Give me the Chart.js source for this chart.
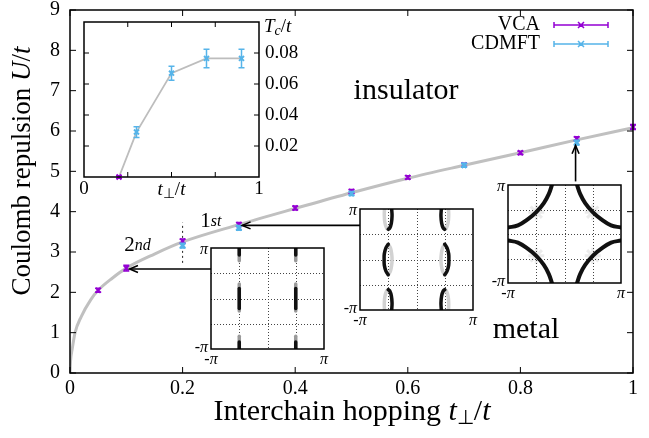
<!DOCTYPE html>
<html>
<head>
<meta charset="utf-8">
<script src="https://cdn.jsdelivr.net/npm/chart.js@4.4.0/dist/chart.umd.min.js"></script>
<style>
html, body { margin: 0; padding: 0; background: #fff; }
#wrap { position: relative; width: 649px; height: 438px; overflow: hidden; }
#wrap canvas { position: absolute; }
</style>
</head>
<body>
<div id="wrap">
  <canvas id="main" width="649" height="438" style="left:0;top:0"></canvas>
  <canvas id="tc"></canvas>
  <canvas id="fsA"></canvas>
  <canvas id="fsB"></canvas>
  <canvas id="fsC"></canvas>
</div>
<script>
// ---- main panel data ----
var tVCA = [0.05, 0.1, 0.2, 0.3, 0.4, 0.5, 0.6, 0.7, 0.8, 0.9, 1.0];
var uVCA = [2.05, 2.6, 3.27, 3.68, 4.09, 4.5, 4.85, 5.16, 5.46, 5.81, 6.1];
var errVCA = [0.05, 0.07, 0.05, 0.05, 0.05, 0.05, 0.04, 0.04, 0.04, 0.05, 0.06];
var tCDMFT = [0.2, 0.3, 0.5, 0.7, 0.9];
var uCDMFT = [3.16, 3.6, 4.45, 5.15, 5.71];
var errCDMFT = [0.06, 0.06, 0.05, 0.05, 0.06];
// grey guide curve
var curveT = [0, 0.001, 0.004, 0.009, 0.02, 0.037, 0.05, 0.075, 0.1, 0.15, 0.2, 0.3, 0.4, 0.5, 0.6, 0.7, 0.8, 0.9, 1.0];
var curveU = [0, 0.3, 0.6, 1.0, 1.4, 1.82, 2.05, 2.35, 2.6, 2.95, 3.25, 3.68, 4.08, 4.47, 4.83, 5.15, 5.46, 5.78, 6.08];
var dottedT = [0.2, 0.2];
var dottedU = [2.73, 3.73];
// arrows: [t from, U from, t to, U to]
var arrows = [[0.252, 2.58, 0.106, 2.58], [0.515, 3.66, 0.306, 3.66], [0.898, 4.75, 0.898, 5.64]];
var xTicks = [0, 0.2, 0.4, 0.6, 0.8, 1];
var yTicks = [0, 1, 2, 3, 4, 5, 6, 7, 8, 9];

// ---- Tc inset data ----
var tcT_VCA = [0.2];
var tc_VCA = [0];
var tcT_CDMFT = [0.3, 0.5, 0.7, 0.9];
var tc_CDMFT = [0.029, 0.067, 0.0765, 0.0765];
var tcErr = [0.0035, 0.0045, 0.006, 0.006];
var tcLineT = [0.2, 0.3, 0.5, 0.7, 0.9];
var tcLine = [0, 0.029, 0.067, 0.0765, 0.0765];
var tcYTicks = [0.02, 0.04, 0.06, 0.08];
var tcXTicks = [0.25, 0.5, 0.75];

// ---- Fermi surface insets (k from -pi to pi) ----
// t_perp = 0.1 : short segments at kx = +-pi/2
var fsA_blackTop = [[-1.57, 3.14], [-1.57, 2.7]];
var fsA_blackMid = [[-1.57, 0.62], [-1.57, -0.62]];
var fsA_greyTop = [[-1.57, 3.14], [-1.57, 2.35]];
var fsA_greyMid = [[-1.57, 0.9], [-1.57, -0.78]];
// t_perp = 0.3 : elongated pockets
var fsB_blackTop = [[-1.38, 3.14], [-1.36, 2.7], [-1.4, 2.25], [-1.49, 1.95], [-1.57, 1.88]];
var fsB_greyTop = [[-1.57, 1.88], [-1.66, 1.95], [-1.76, 2.3], [-1.79, 2.75], [-1.78, 3.14]];
var fsB_blackMid = [[-1.57, 0.95], [-1.7, 0.72], [-1.79, 0.35], [-1.8, 0], [-1.79, -0.35], [-1.7, -0.72], [-1.57, -0.95]];
var fsB_greyMid = [[-1.57, 0.95], [-1.45, 0.72], [-1.38, 0.35], [-1.36, 0], [-1.38, -0.35], [-1.45, -0.72], [-1.57, -0.95]];
// t_perp = 0.9 : arcs round the corners
var fsC_arc = [[-3.14, 0.42], [-2.59, 0.55], [-2.03, 0.95], [-1.57, 1.4], [-1.15, 1.98], [-0.87, 2.57], [-0.7, 3.14]];
var fsC_nodes = [[-1.57, 1.4], [1.57, 1.4], [-1.57, -1.4], [1.57, -1.4]];

var purple = '#9400d3';
var blue = '#56b4e9';
var serif = 'Liberation Serif';

function pts(xs, ys) { return xs.map(function (x, i) { return { x: x, y: ys[i] }; }); }
function pairs(a) { return a.map(function (p) { return { x: p[0], y: p[1] }; }); }
function mirror(a, sx, sy) { return a.map(function (p) { return [p[0] * sx, p[1] * sy]; }); }

// draw text made of pieces with own fonts: [text, font, dy]
function rich(ctx, parts, x, y, align) {
  var w = 0;
  parts.forEach(function (p) { ctx.font = p[1]; w += ctx.measureText(p[0]).width; });
  var cx = align === 'center' ? x - w / 2 : (align === 'right' ? x - w : x);
  ctx.textAlign = 'left';
  parts.forEach(function (p) {
    ctx.font = p[1];
    ctx.fillText(p[0], cx, y + (p[2] || 0));
    cx += ctx.measureText(p[0]).width;
  });
}

var errorBars = {
  id: 'errorBars',
  afterDatasetDraw: function (chart, args) {
    var ds = chart.data.datasets[args.index];
    if (!ds.errors) return;
    var ctx = chart.ctx, xs = chart.scales.x, ys = chart.scales.y;
    var cap = ds.capW || 3;
    ctx.save();
    ctx.strokeStyle = ds.borderColor;
    ctx.lineWidth = 1.5;
    ds.data.forEach(function (p, i) {
      var px = xs.getPixelForValue(p.x);
      var y1 = ys.getPixelForValue(p.y - ds.errors[i]);
      var y2 = ys.getPixelForValue(p.y + ds.errors[i]);
      ctx.beginPath();
      ctx.moveTo(px, y1); ctx.lineTo(px, y2);
      ctx.moveTo(px - cap, y1); ctx.lineTo(px + cap, y1);
      ctx.moveTo(px - cap, y2); ctx.lineTo(px + cap, y2);
      ctx.stroke();
    });
    ctx.restore();
  }
};

function arrowHead(ctx, x1, y1, x2, y2) {
  var a = Math.atan2(y2 - y1, x2 - x1), L = 9, s = 0.4;
  ctx.beginPath();
  ctx.moveTo(x2 - L * Math.cos(a - s), y2 - L * Math.sin(a - s));
  ctx.lineTo(x2, y2);
  ctx.lineTo(x2 - L * Math.cos(a + s), y2 - L * Math.sin(a + s));
  ctx.stroke();
}

var mainDecor = {
  id: 'mainDecor',
  afterDatasetsDraw: function (chart) {
    var ctx = chart.ctx, a = chart.chartArea, xs = chart.scales.x, ys = chart.scales.y;
    ctx.save();
    // frame and inward ticks
    ctx.strokeStyle = '#000';
    ctx.lineWidth = 1.5;
    ctx.strokeRect(a.left, a.top, a.right - a.left, a.bottom - a.top);
    ctx.lineWidth = 1;
    ctx.beginPath();
    xTicks.forEach(function (v) {
      var px = xs.getPixelForValue(v);
      ctx.moveTo(px, a.bottom); ctx.lineTo(px, a.bottom - 6);
      ctx.moveTo(px, a.top); ctx.lineTo(px, a.top + 6);
    });
    yTicks.forEach(function (v) {
      var py = ys.getPixelForValue(v);
      ctx.moveTo(a.left, py); ctx.lineTo(a.left + 6, py);
      ctx.moveTo(a.right, py); ctx.lineTo(a.right - 6, py);
    });
    ctx.stroke();
    // arrows
    ctx.lineWidth = 1.6;
    arrows.forEach(function (r) {
      var x1 = xs.getPixelForValue(r[0]), y1 = ys.getPixelForValue(r[1]);
      var x2 = xs.getPixelForValue(r[2]), y2 = ys.getPixelForValue(r[3]);
      ctx.beginPath(); ctx.moveTo(x1, y1); ctx.lineTo(x2, y2); ctx.stroke();
      arrowHead(ctx, x1, y1, x2, y2);
    });
    // labels
    ctx.fillStyle = '#000';
    ctx.textBaseline = 'middle';
    rich(ctx, [['1', '21px ' + serif], ['st', 'italic 16px ' + serif]], xs.getPixelForValue(0.25), ys.getPixelForValue(3.75), 'center');
    rich(ctx, [['2', '21px ' + serif], ['nd', 'italic 16px ' + serif]], xs.getPixelForValue(0.12), ys.getPixelForValue(3.16), 'center');
    rich(ctx, [['insulator', '30px ' + serif]], xs.getPixelForValue(0.597), ys.getPixelForValue(6.98), 'center');
    rich(ctx, [['metal', '30px ' + serif]], xs.getPixelForValue(0.81), ys.getPixelForValue(1.07), 'center');
    // axis titles
    rich(ctx, [['Interchain hopping ', '30px ' + serif], ['t', 'italic 30px ' + serif], ['\u22A5', '20px ' + serif, 7], ['/', '30px ' + serif], ['t', 'italic 30px ' + serif]], 352, 412, 'center');
    ctx.save();
    ctx.translate(23, 171);
    ctx.rotate(-Math.PI / 2);
    rich(ctx, [['Coulomb repulsion ', '27px ' + serif], ['U', 'italic 27px ' + serif], ['/', '27px ' + serif], ['t', 'italic 27px ' + serif]], 0, 0, 'center');
    ctx.restore();
    // key
    var keys = [['VCA', purple, 25], ['CDMFT', blue, 44]];
    keys.forEach(function (k) {
      rich(ctx, [[k[0], '20px ' + serif]], 540, k[2], 'right');
      ctx.strokeStyle = k[1];
      ctx.lineWidth = 1.5;
      ctx.beginPath();
      ctx.moveTo(554, k[2]); ctx.lineTo(608, k[2]);
      ctx.moveTo(554, k[2] - 3); ctx.lineTo(554, k[2] + 3);
      ctx.moveTo(608, k[2] - 3); ctx.lineTo(608, k[2] + 3);
      ctx.moveTo(578, k[2] - 3); ctx.lineTo(584, k[2] + 3);
      ctx.moveTo(578, k[2] + 3); ctx.lineTo(584, k[2] - 3);
      ctx.stroke();
    });
    ctx.restore();
  }
};

new Chart(document.getElementById('main'), {
  type: 'scatter',
  data: {
    datasets: [
      { label: 'guide', data: pts(curveT, curveU), showLine: true, borderColor: '#c0c0c0', borderWidth: 3,
        pointRadius: 0, tension: 0.4, cubicInterpolationMode: 'monotone', order: 4 },
      { label: 'cut', data: pts(dottedT, dottedU), showLine: true, borderColor: '#222', borderWidth: 1,
        borderDash: [2, 3], pointRadius: 0, order: 3 },
      { label: 'VCA', data: pts(tVCA, uVCA), borderColor: purple, backgroundColor: purple, pointStyle: 'crossRot',
        pointRadius: 3.5, borderWidth: 2, errors: errVCA, order: 2, clip: false },
      { label: 'CDMFT', data: pts(tCDMFT, uCDMFT), borderColor: blue, backgroundColor: blue, pointStyle: 'crossRot',
        pointRadius: 3.5, borderWidth: 2.5, errors: errCDMFT, order: 1, clip: false }
    ]
  },
  options: {
    responsive: false,
    animation: false,
    events: [],
    layout: { padding: { left: 0, top: 10, right: 16, bottom: 0 } },
    plugins: { legend: { display: false }, tooltip: { enabled: false } },
    scales: {
      x: {
        type: 'linear', min: 0, max: 1,
        ticks: { stepSize: 0.2, color: '#000', padding: 4, maxRotation: 0, font: { family: serif, size: 20 },
          callback: function (v) { return String(Number(v.toFixed(2))); } },
        grid: { display: false, drawTicks: false }, border: { display: false },
        afterFit: function (s) { s.height = 65; s.paddingLeft = 0; s.paddingRight = 0; }
      },
      y: {
        min: 0, max: 9,
        ticks: { stepSize: 1, color: '#000', padding: 10, font: { family: serif, size: 20 } },
        grid: { display: false, drawTicks: false }, border: { display: false },
        afterFit: function (s) { s.width = 70; s.paddingTop = 0; s.paddingBottom = 0; }
      }
    }
  },
  plugins: [errorBars, mainDecor]
});

// ---- small panels ----
function placeCanvas(id, box, pad) {
  var cv = document.getElementById(id);
  cv.width = box[2] + pad.left + pad.right;
  cv.height = box[3] + pad.top + pad.bottom;
  cv.style.left = (box[0] - pad.left) + 'px';
  cv.style.top = (box[1] - pad.top) + 'px';
  return cv;
}

var hiddenScales = function (xmin, xmax, ymin, ymax) {
  return {
    x: { type: 'linear', display: false, min: xmin, max: xmax },
    y: { type: 'linear', display: false, min: ymin, max: ymax }
  };
};

// Tc inset
var tcPad = { left: 20, top: 12, right: 60, bottom: 30 };
var tcDecor = {
  id: 'tcDecor',
  beforeDatasetsDraw: function (chart) {
    var ctx = chart.ctx, a = chart.chartArea;
    ctx.save();
    ctx.fillStyle = '#fff';
    ctx.fillRect(a.left, a.top, a.right - a.left, a.bottom - a.top);
    ctx.restore();
  },
  afterDatasetsDraw: function (chart) {
    var ctx = chart.ctx, a = chart.chartArea, xs = chart.scales.x, ys = chart.scales.y;
    ctx.save();
    ctx.strokeStyle = '#000';
    ctx.lineWidth = 1.5;
    ctx.strokeRect(a.left, a.top, a.right - a.left, a.bottom - a.top);
    ctx.lineWidth = 1;
    ctx.beginPath();
    tcXTicks.forEach(function (v) {
      var px = xs.getPixelForValue(v);
      ctx.moveTo(px, a.bottom); ctx.lineTo(px, a.bottom - 5);
      ctx.moveTo(px, a.top); ctx.lineTo(px, a.top + 5);
    });
    tcYTicks.forEach(function (v) {
      var py = ys.getPixelForValue(v);
      ctx.moveTo(a.left, py); ctx.lineTo(a.left + 5, py);
      ctx.moveTo(a.right, py); ctx.lineTo(a.right - 5, py);
    });
    ctx.stroke();
    ctx.fillStyle = '#000';
    ctx.textBaseline = 'middle';
    tcYTicks.forEach(function (v) {
      rich(ctx, [[v.toFixed(2), '19px ' + serif]], a.right + 6, ys.getPixelForValue(v), 'left');
    });
    rich(ctx, [['T', 'italic 19px ' + serif], ['c', 'italic 14px ' + serif, 4], ['/', '19px ' + serif], ['t', 'italic 19px ' + serif]], a.right + 5, a.top + 5, 'left');
    rich(ctx, [['0', '19px ' + serif]], a.left, a.bottom + 12, 'center');
    rich(ctx, [['1', '19px ' + serif]], a.right, a.bottom + 12, 'center');
    rich(ctx, [['t', 'italic 19px ' + serif], ['\u22A5', '14px ' + serif, 4], ['/', '19px ' + serif], ['t', 'italic 19px ' + serif]], xs.getPixelForValue(0.5), a.bottom + 13, 'center');
    ctx.restore();
  }
};
new Chart(placeCanvas('tc', [84, 22, 175, 155], tcPad), {
  type: 'scatter',
  data: {
    datasets: [
      { data: pts(tcLineT, tcLine), showLine: true, borderColor: '#bdbdbd', borderWidth: 1.8, pointRadius: 0, order: 3 },
      { data: pts(tcT_VCA, tc_VCA), borderColor: purple, pointStyle: 'crossRot', pointRadius: 3.5, borderWidth: 2,
        errors: [0.0008], order: 2, clip: false },
      { data: pts(tcT_CDMFT, tc_CDMFT), borderColor: blue, pointStyle: 'crossRot', pointRadius: 3.5, borderWidth: 2,
        errors: tcErr, order: 1, clip: false }
    ]
  },
  options: {
    responsive: false, animation: false, events: [],
    layout: { padding: tcPad },
    plugins: { legend: { display: false }, tooltip: { enabled: false } },
    scales: hiddenScales(0, 1, 0, 0.1)
  },
  plugins: [errorBars, tcDecor]
});

// Fermi surface insets
var fsPad = { left: 26, top: 8, right: 10, bottom: 20 };
var fsGrid = [-1.5708, 0, 1.5708];
var fsDecor = {
  id: 'fsDecor',
  beforeDatasetsDraw: function (chart) {
    var ctx = chart.ctx, a = chart.chartArea, xs = chart.scales.x, ys = chart.scales.y;
    ctx.save();
    ctx.fillStyle = '#fff';
    ctx.fillRect(a.left, a.top, a.right - a.left, a.bottom - a.top);
    ctx.strokeStyle = '#444';
    ctx.lineWidth = 1;
    ctx.setLineDash([1, 2]);
    ctx.beginPath();
    fsGrid.forEach(function (v) {
      var px = Math.round(xs.getPixelForValue(v)) + 0.5, py = Math.round(ys.getPixelForValue(v)) + 0.5;
      ctx.moveTo(px, a.top); ctx.lineTo(px, a.bottom);
      ctx.moveTo(a.left, py); ctx.lineTo(a.right, py);
    });
    ctx.stroke();
    ctx.restore();
  },
  afterDatasetsDraw: function (chart) {
    var ctx = chart.ctx, a = chart.chartArea;
    ctx.save();
    ctx.strokeStyle = '#000';
    ctx.lineWidth = 1.5;
    ctx.strokeRect(a.left, a.top, a.right - a.left, a.bottom - a.top);
    ctx.fillStyle = '#000';
    ctx.textBaseline = 'middle';
    var f = 'italic 16px ' + serif, g = '16px ' + serif;
    rich(ctx, [['\u03C0', f]], a.left - 3, a.top + 2, 'right');
    rich(ctx, [['-', g], ['\u03C0', f]], a.left - 3, a.bottom - 1, 'right');
    rich(ctx, [['-', g], ['\u03C0', f]], a.left, a.bottom + 11, 'center');
    rich(ctx, [['\u03C0', f]], a.right, a.bottom + 11, 'center');
    ctx.restore();
  }
};

function line(a, color, w) {
  return { data: pairs(a), showLine: true, borderColor: color, borderWidth: w, pointRadius: 0,
    tension: 0.4, clip: 0, borderCapStyle: 'round' };
}
function four(a, color, w) {
  // same feature at the mirrored positions
  return [line(a, color, w), line(mirror(a, -1, 1), color, w),
          line(mirror(a, 1, -1), color, w), line(mirror(a, -1, -1), color, w)];
}
function fsChart(id, box, datasets) {
  new Chart(placeCanvas(id, box, fsPad), {
    type: 'scatter',
    data: { datasets: datasets },
    options: {
      responsive: false, animation: false, events: [],
      layout: { padding: fsPad },
      plugins: { legend: { display: false }, tooltip: { enabled: false } },
      scales: hiddenScales(-3.1416, 3.1416, -3.1416, 3.1416)
    },
    plugins: [fsDecor]
  });
}

var greyA = '#9a9a9a', greyB = '#d2d2d2', ink = '#111';
fsChart('fsA', [211, 248, 113, 101],
  [].concat(
    four(fsA_greyTop, greyA, 3.5),
    [line(fsA_greyMid, greyA, 3.5), line(mirror(fsA_greyMid, -1, 1), greyA, 3.5)],
    four(fsA_blackTop, ink, 3.5),
    [line(fsA_blackMid, ink, 3.5), line(mirror(fsA_blackMid, -1, 1), ink, 3.5)]
  ).reverse());

fsChart('fsB', [360, 209, 113, 101],
  [].concat(
    four(fsB_greyTop, greyB, 3.5),
    [line(fsB_greyMid, greyB, 3.5), line(mirror(fsB_greyMid, -1, 1), greyB, 3.5)],
    four(fsB_blackTop, ink, 3.5),
    [line(fsB_blackMid, ink, 3.5), line(mirror(fsB_blackMid, -1, 1), ink, 3.5)]
  ).reverse());

fsChart('fsC', [508, 182, 114, 101],
  [].concat(
    four(fsC_arc, ink, 4),
    [{ data: pairs(fsC_nodes), pointStyle: 'star', pointRadius: 8, borderWidth: 3,
       borderColor: 'rgba(0,0,0,0.08)', backgroundColor: 'rgba(0,0,0,0)', clip: 0 }]
  ));
</script>
</body>
</html>
